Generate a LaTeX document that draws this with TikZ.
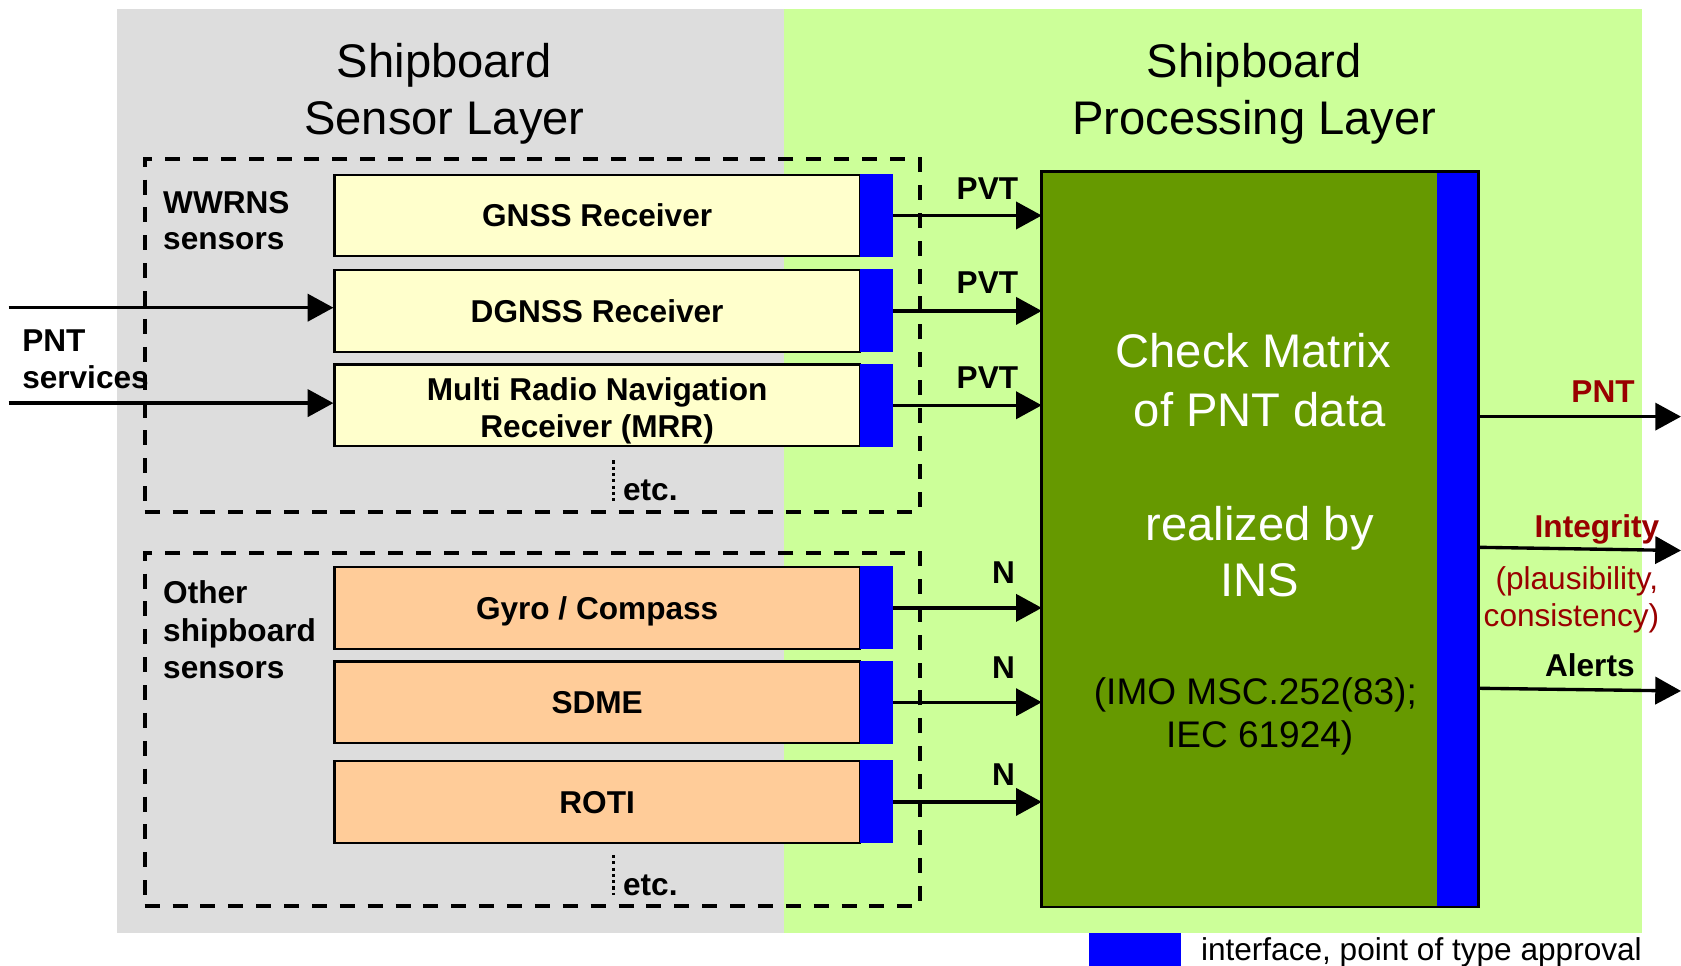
\documentclass[tikz,border=0pt]{standalone}
\usepackage{fontspec}
\setmainfont{Liberation Sans}
\usetikzlibrary{arrows.meta}

\definecolor{sensorgray}{HTML}{DDDDDD}
\definecolor{proclime}{HTML}{CCFF99}
\definecolor{wwrnsfill}{HTML}{FFFFCC}
\definecolor{otherfill}{HTML}{FFCC99}
\definecolor{ifblue}{HTML}{0000FF}
\definecolor{insgreen}{HTML}{669900}
\definecolor{outred}{HTML}{990000}

\newcommand\fsmall{\fontsize{22.1pt}{26.25pt}\selectfont}
\newcommand\fbig{\fontsize{33pt}{40pt}\selectfont}
\newcommand\fmid{\fontsize{25.9pt}{29pt}\selectfont}

\begin{document}
\begin{tikzpicture}[x=0.75pt,y=-0.75pt,
  sensorbox/.style={draw=black, line width=1.5pt, minimum width=367.5pt,
    minimum height=57pt, inner sep=0pt, align=center, font=\fsmall\bfseries},
  onelinebox/.style={sensorbox, text height=16pt, text depth=0pt},
  ifbar/.style={fill=ifblue, minimum width=23.25pt, minimum height=58pt, inner sep=0pt},
  flow/.style={line width=2.35pt, -{Triangle[length=18pt,width=19pt]}},
  groupbox/.style={draw=black, line width=2.7pt, dash pattern=on 10.5pt off 9pt,
    minimum width=542.25pt, minimum height=246.75pt, inner sep=0pt},
  lbl/.style={font=\fsmall\bfseries, inner sep=0pt},
  note/.style={font=\fsmall, inner sep=0pt},
  titletext/.style={font=\fbig, inner sep=0pt, anchor=base},
  etcdots/.style={line width=1.9pt, dash pattern=on 2.2pt off 2.2pt}
]
\useasboundingbox (0,0) rectangle (1568,901);

% layer backgrounds
\fill[sensorgray] (109,8) rectangle (731,870);
\fill[proclime] (731,8) rectangle (1531.5,870);

% layer titles
\node[titletext] (sensortitleA) at (414.5,72) {Shipboard};
\node[titletext] (sensortitleB) at (414.5,125) {Sensor Layer};
\node[titletext] (proctitleA) at (1170,72) {Shipboard};
\node[titletext] (proctitleB) at (1170,125) {Processing Layer};

% sensor groups
\node[groupbox] (wwrns) at (496.5,313) {};
\node[groupbox] (others) at (496.5,680.5) {};
\node[lbl, anchor=base west] (wwrnsA) at (152,199) {WWRNS};
\node[lbl, anchor=base west] (wwrnsB) at (152,233) {sensors};
\node[lbl, anchor=base west] (otherA) at (152,563) {Other};
\node[lbl, anchor=base west] (otherB) at (152,598) {shipboard};
\node[lbl, anchor=base west] (otherC) at (152,633) {sensors};

% sensors with their interfaces
\node[onelinebox, fill=wwrnsfill] (gnss) at (557,201) {GNSS Receiver};
\node[onelinebox, fill=wwrnsfill] (dgnss) at (557,290) {DGNSS Receiver};
\node[sensorbox, fill=wwrnsfill] (mrr) at (557,378) {\rule{0pt}{23.6pt}Multi Radio Navigation\\Receiver (MRR)};
\node[onelinebox, fill=otherfill] (gyro) at (557,567) {Gyro / Compass};
\node[onelinebox, fill=otherfill] (sdme) at (557,655) {SDME};
\node[onelinebox, fill=otherfill] (roti) at (557,748) {ROTI};
\node[ifbar] (gnssif) at (817.5,201) {};
\node[ifbar] (dgnssif) at (817.5,290) {};
\node[ifbar] (mrrif) at (817.5,378) {};
\node[ifbar] (gyroif) at (817.5,567) {};
\node[ifbar] (sdmeif) at (817.5,655) {};
\node[ifbar] (rotiif) at (817.5,748) {};

% further sensors
\draw[etcdots] (572,429.5) -- (572,467);
\node[lbl, anchor=base west] (etcA) at (581,467) {etc.};
\draw[etcdots] (572,797.5) -- (572,835);
\node[lbl, anchor=base west] (etcB) at (581,835) {etc.};

% integrated navigation system
\node[fill=insgreen, minimum width=305.25pt, minimum height=514.3pt, inner sep=0pt] (ins) at (1175.5,502.85) {};
\fill[ifblue] (ins.north east) ++(-39,0) rectangle (ins.south east);
\draw[line width=2pt] (ins.north west) rectangle (ins.south east);
\node[titletext, text=white] (insA) at (1169,343) {Check Matrix};
\node[titletext, text=white] (insB) at (1175,397.5) {of PNT data};
\node[titletext, text=white] (insC) at (1175,503.7) {realized by};
\node[titletext, text=white] (insD) at (1175,556.5) {INS};
\node[font=\fmid, inner sep=0pt, anchor=base] (insE) at (1171,657.5) {(IMO MSC.252(83);};
\node[font=\fmid, inner sep=0pt, anchor=base] (insF) at (1175,697.5) {IEC 61924)};

% external PNT services
\coordinate (svcA) at (8,287);
\coordinate (svcB) at (8,376);
\draw[flow] (svcA) -- (svcA -| dgnss.west);
\draw[flow] (svcB) -- (svcB -| mrr.west);
\node[lbl, anchor=base west] (pntsvcA) at (20.5,328) {PNT};
\node[lbl, anchor=base west] (pntsvcB) at (20.5,362) {services};

% sensor data into the INS
\foreach \s in {gnssif,dgnssif,mrrif,gyroif,sdmeif,rotiif}
  \draw[flow] (\s.east) -- (\s.east -| ins.west);
\node[lbl, anchor=base east] (pvtA) at (950,186) {PVT};
\node[lbl, anchor=base east] (pvtB) at (950,274) {PVT};
\node[lbl, anchor=base east] (pvtC) at (950,362) {PVT};
\node[lbl, anchor=base] (nA) at (936,544.5) {N};
\node[lbl, anchor=base] (nB) at (936,633) {N};
\node[lbl, anchor=base] (nC) at (936,733) {N};

% INS outputs
\coordinate (pntY) at (0,388.6);
\coordinate (integY) at (0,510.5);
\coordinate (alertY) at (0,642);
\coordinate (pntEnd) at (1568,388.6);
\coordinate (integEnd) at (1568,513.5);
\coordinate (alertEnd) at (1568,644.5);
\draw[flow] (ins.east |- pntY) -- (pntEnd);
\draw[flow] (ins.east |- integY) -- (integEnd);
\draw[flow] (ins.east |- alertY) -- (alertEnd);
\node[lbl, text=outred, anchor=base east] (outPnt) at (1525,375.6) {PNT};
\node[lbl, text=outred, anchor=base east] (outInteg) at (1548,501) {Integrity};
\node[note, text=outred, anchor=base east] (outIntegA) at (1547,550.3) {(plausibility,};
\node[note, text=outred, anchor=base east] (outIntegB) at (1548,584.5) {consistency)};
\node[lbl, anchor=base east] (outAlert) at (1525,631) {Alerts};

% legend
\node[fill=ifblue, minimum width=64.5pt, minimum height=23.25pt, inner sep=0pt] (legendkey) at (1059,885.5) {};
\node[note, anchor=base west] (legendtext) at (1120,895.5) {interface, point of type approval};
\end{tikzpicture}
\end{document}
